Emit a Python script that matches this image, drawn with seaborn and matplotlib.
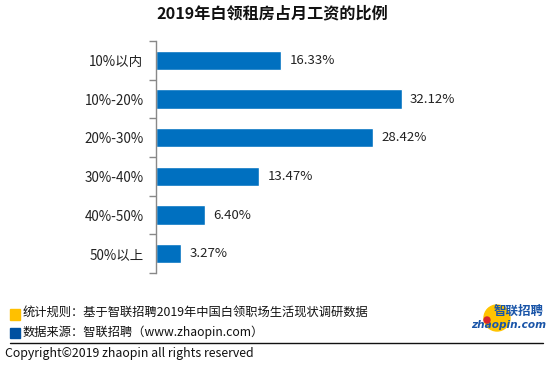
import seaborn as sns
import pandas as pd
import matplotlib.pyplot as plt
from matplotlib.patches import Rectangle, Ellipse
import numpy as np

categories = ['10%以内', '10%-20%', '20%-30%', '30%-40%', '40%-50%', '50%以上']
values = [16.33, 32.12, 28.42, 13.47, 6.40, 3.27]
value_labels = ['16.33%', '32.12%', '28.42%', '13.47%', '6.40%', '3.27%']

title = '2019年白领租房占月工资的比例'
note1 = '统计规则：基于智联招聘2019年中国白领职场生活现状调研数据'
note2 = '数据来源：智联招聘（www.zhaopin.com）'
copyright_text = 'Copyright©2019 zhaopin all rights reserved'

sns.set_style('white')
plt.rcParams['font.family'] = ['Noto Sans CJK SC', 'DejaVu Sans']

W, H = 554, 371
fig = plt.figure(figsize=(W / 100, H / 100), dpi=100)
# axes placed in pixel terms
ax = fig.add_axes([156 / W, (H - 273) / H, 306 / W, 232 / H])

df = pd.DataFrame({'cat': categories, 'val': values})
sns.barplot(data=df, y='cat', x='val', orient='h', color='#0070C0',
            width=0.5, ax=ax, saturation=1)
ax.set_xlim(0, 40)
ax.set_ylim(len(categories) - 0.5, -0.5)
ax.set_xlabel('')
ax.set_ylabel('')
ax.set_xticks([])

for i, (v, lab) in enumerate(zip(values, value_labels)):
    ax.text(v + 1.1, i, lab, va='center', ha='left', fontsize=9.5, color='#222222')

for s in ['top', 'right', 'bottom']:
    ax.spines[s].set_visible(False)
ax.spines['left'].set_color('#888888')
ax.spines['left'].set_linewidth(1)
ax.tick_params(axis='y', which='major', left=False, length=0, labelsize=9.7,
               labelcolor='#222222', pad=9)
ax.set_yticks(np.arange(-0.5, len(categories), 1), minor=True)
ax.tick_params(axis='y', which='minor', left=True, length=5, color='#888888',
               width=1, direction='out')

fig.text(272 / W, 1 - 13 / H, title, ha='center', va='center', fontsize=11.6,
         fontweight='bold', color='#111111')

# footer notes
fig.patches.append(Rectangle((10 / W, 1 - 320 / H), 10 / W, 11 / H,
                             transform=fig.transFigure, color='#FFC000'))
fig.patches.append(Rectangle((10 / W, 1 - 338 / H), 10 / W, 10 / H,
                             transform=fig.transFigure, color='#0050A0'))
fig.text(23 / W, 1 - 313 / H, note1, ha='left', va='center', fontsize=8.8, color='#111111')
fig.text(23 / W, 1 - 332 / H, note2, ha='left', va='center', fontsize=8.8, color='#111111')

fig.add_artist(plt.Line2D([10 / W, 543 / W], [1 - 343 / H, 1 - 343 / H],
                          transform=fig.transFigure, color='#111111', linewidth=1))
fig.text(5 / W, 1 - 354 / H, copyright_text, ha='left', va='center', fontsize=8.9,
         color='#111111')

# logo
fig.patches.append(Ellipse((497 / W, 1 - 318 / H), 26 / W, 26 / H, transform=fig.transFigure,
                           color='#FFC400', zorder=1))
fig.patches.append(Ellipse((487 / W, 1 - 320 / H), 6 / W, 6 / H, transform=fig.transFigure,
                           color='#D8262E', zorder=4))
fig.text(519 / W, 1 - 311 / H, '智联招聘', ha='center', va='center', fontsize=9,
         fontweight='bold', fontstyle='italic', color='#1A55A8', zorder=3)
fig.text(509 / W, 1 - 325 / H, 'zhaopin.com', ha='center', va='center', fontsize=7.6,
         fontweight='bold', fontstyle='italic', color='#1A55A8', family='DejaVu Sans', zorder=3)

fig.savefig('out.png', dpi=100)
